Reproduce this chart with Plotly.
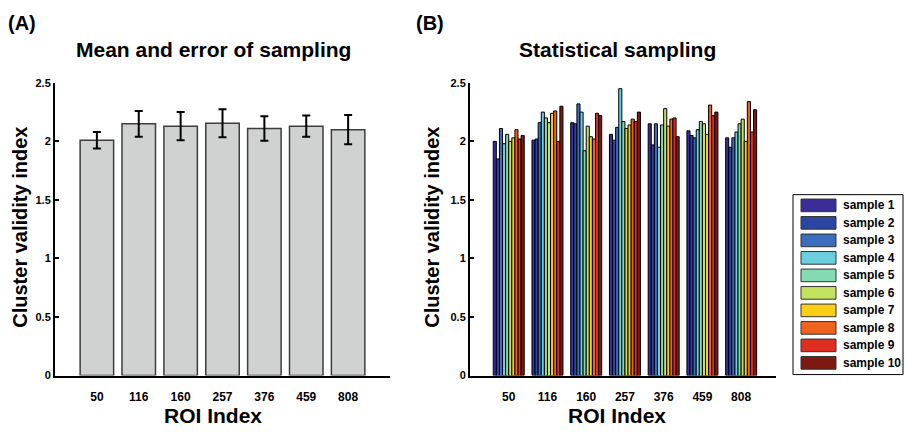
import plotly.graph_objects as go

# ROI categories shared by both panels
rois = ["50", "116", "160", "257", "376", "459", "808"]

# Panel A: mean cluster validity index and its error per ROI
mean_cvi = [2.01, 2.15, 2.13, 2.155, 2.11, 2.13, 2.10]
err_cvi = [0.07, 0.11, 0.12, 0.12, 0.105, 0.09, 0.125]

# Panel B: cluster validity index of each sampling run, per ROI
sample_1 = [2.00, 2.01, 2.16, 2.06, 2.15, 2.09, 2.03]
sample_2 = [1.85, 2.02, 2.15, 2.01, 1.97, 2.05, 1.95]
sample_3 = [2.11, 2.16, 2.32, 2.12, 2.15, 2.03, 2.03]
sample_4 = [1.98, 2.25, 2.25, 2.45, 1.95, 2.10, 2.08]
sample_5 = [2.06, 2.20, 1.92, 2.17, 2.14, 2.17, 2.15]
sample_6 = [2.00, 2.16, 2.13, 2.11, 2.28, 2.15, 2.19]
sample_7 = [2.03, 2.24, 2.04, 2.14, 2.13, 2.06, 2.00]
sample_8 = [2.10, 2.26, 2.02, 2.19, 2.19, 2.31, 2.34]
sample_9 = [2.02, 2.00, 2.24, 2.17, 2.20, 2.22, 2.08]
sample_10 = [2.05, 2.30, 2.22, 2.25, 2.04, 2.25, 2.27]

sample_names = ["sample %d" % k for k in range(1, 11)]
sample_colors = ["#3b2d98", "#2b45a3", "#3b6ebf", "#6ccfdf", "#84dbb2",
                 "#c3e25e", "#fccf16", "#f0631f", "#dd2e20", "#7e1912"]
samples = [sample_1, sample_2, sample_3, sample_4, sample_5,
           sample_6, sample_7, sample_8, sample_9, sample_10]

y_ticks = [0, 0.5, 1, 1.5, 2, 2.5]
y_ticktext = ["0", "0.5", "1", "1.5", "2", "2.5"]

W, H = 905, 436
FONT = "Liberation Sans, Arial, sans-serif"
idx = list(range(len(rois)))


def px(x):
    return x / W


def py(y):
    return 1 - y / H


fig = go.Figure()

# Panel A bars with error bars
fig.add_trace(go.Bar(
    x=idx, y=mean_cvi, width=0.8, offset=-0.4,
    marker=dict(color="#d0d2d1", line=dict(color="#3c3c3c", width=1.5)),
    error_y=dict(type="data", array=err_cvi, color="black", thickness=2, width=4),
    xaxis="x", yaxis="y", showlegend=False,
))

# Panel B grouped bars, one trace per sample
n = len(samples)
bw = 0.8 / n
for i, (vals, name, col) in enumerate(zip(samples, sample_names, sample_colors)):
    fig.add_trace(go.Bar(
        x=idx, y=vals, name=name, width=bw, offset=-0.4 + i * bw,
        marker=dict(color=col, line=dict(color="black", width=1)),
        xaxis="x2", yaxis="y2", showlegend=False,
    ))

xtickfont = dict(family=FONT, size=12, color="black", weight="bold")
ytickfont = dict(family=FONT, size=11, color="black", weight="bold")
xcommon = dict(tickvals=idx, ticktext=rois, showline=True, linecolor="black",
               linewidth=2, ticks="", showgrid=False, zeroline=False,
               tickfont=xtickfont, ticklabelstandoff=9, fixedrange=True)
ycommon = dict(range=[0, 2.5], tickvals=y_ticks, ticktext=y_ticktext,
               showline=True, linecolor="black", linewidth=2, ticks="inside",
               ticklen=4, tickcolor="black", tickwidth=1.5, showgrid=False,
               zeroline=False, tickfont=ytickfont, fixedrange=True)

ydom = [py(380), py(79)]
fig.update_layout(
    width=W, height=H, margin=dict(l=0, r=0, t=0, b=0),
    paper_bgcolor="white", plot_bgcolor="white", barmode="overlay",
    xaxis=dict(domain=[px(55), px(390)], range=[-1, 7], anchor="y", **xcommon),
    yaxis=dict(domain=ydom, anchor="x", **ycommon),
    xaxis2=dict(domain=[px(470), px(776)], range=[-1, 6.9], anchor="y2", **xcommon),
    yaxis2=dict(domain=ydom, anchor="x2", **ycommon),
)

annotations = []


def text(x, y, s, size, xanchor="center", angle=0):
    annotations.append(dict(
        x=px(x), y=py(y), xref="paper", yref="paper", text=s, showarrow=False,
        xanchor=xanchor, yanchor="middle", textangle=angle,
        font=dict(family=FONT, size=size, color="black", weight="bold")))


# Panel labels and titles
text(6, 17, "(A)", 20, xanchor="left")
text(414, 17, "(B)", 20, xanchor="left")
text(213, 45, "Mean and error of sampling", 21)
text(617, 45, "Statistical sampling", 21)
# Axis titles
text(20, 228, "Cluster validity index", 20, angle=-90)
text(432, 228, "Cluster validity index", 20, angle=-90)
text(213, 421, "ROI Index", 21)
text(617, 421, "ROI Index", 21)

# Legend box with one swatch per sample
shapes = [dict(type="rect", xref="paper", yref="paper",
               x0=px(793), x1=px(903), y0=py(379), y1=py(194),
               line=dict(color="black", width=1), fillcolor="white")]
for i, (name, col) in enumerate(zip(sample_names, sample_colors)):
    cy = 205 + i * 18
    shapes.append(dict(type="rect", xref="paper", yref="paper",
                       x0=px(801), x1=px(836), y0=py(cy + 6.5), y1=py(cy - 6.5),
                       line=dict(color="#333333", width=1), fillcolor=col))
    text(841, cy, name, 12, xanchor="left")

fig.update_layout(annotations=annotations, shapes=shapes)
fig.write_html("out.html")
